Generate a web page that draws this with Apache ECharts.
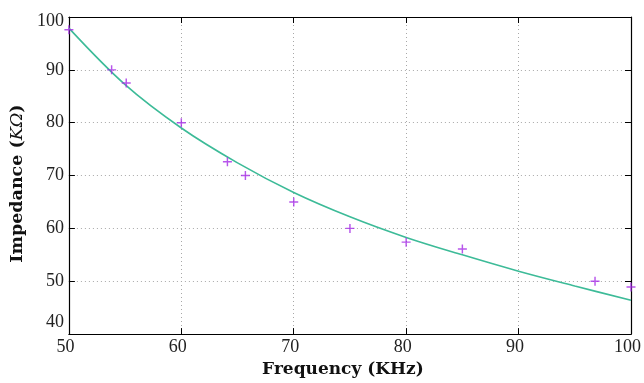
<!DOCTYPE html>
<html>
<head>
<meta charset="utf-8">
<script src="https://cdn.jsdelivr.net/npm/echarts@6/dist/echarts.min.js"></script>
<style>html,body{margin:0;padding:0;background:#fff}#c{width:644px;height:383px}</style>
</head>
<body>
<div id="c"></div>
<script>
// measured points
const measX = [50, 53.8, 55.1, 60, 64.1, 65.7, 70, 75, 80, 85, 96.8, 100];
const measY = [97.6, 90, 87.5, 80, 72.6, 70, 65, 60, 57.4, 56.1, 50, 48.9];
// fitted curve
const fitX = [50, 55, 60, 65, 70, 75, 80, 85, 90, 95, 100];
const fitY = [97.9, 87.2, 79.0, 72.4, 66.8, 62.2, 58.3, 55.0, 51.9, 49.1, 46.4];
// ticks
const xTicks = [50, 60, 70, 80, 90, 100];
const yTicks = [40, 50, 60, 70, 80, 90, 100];

const serif = 'Liberation Serif';
const plus = 'path://M4.2,0 H5.8 V4.2 H10 V5.8 H5.8 V10 H4.2 V5.8 H0 V4.2 H4.2 Z';
const chart = echarts.init(document.getElementById('c'));
const grid = {type: [1, 3], color: '#a8a8a8', width: 1};
chart.setOption({
  animation: false,
  grid: {left: 68.5, right: 9, top: 17, bottom: 42, containLabel: false},
  xAxis: [{
    type: 'value', min: xTicks[0], max: xTicks[xTicks.length-1], interval: 10,
    position: 'bottom',
    name: 'Frequency (KHz)', nameLocation: 'middle', nameGap: 21,
    nameTextStyle: {fontFamily: 'DejaVu Serif', fontWeight: 'bold', fontSize: 17, color: '#111', padding: [0, 14, 0, 0]},
    axisLine: {show: true, lineStyle: {color: '#000', width: 1.2}},
    axisTick: {show: true, inside: true, length: 6, lineStyle: {color: '#000'}},
    axisLabel: {fontFamily: serif, fontSize: 18, color: '#222', margin: 4, padding: [0, 7, 0, 0]},
    splitLine: {show: true, lineStyle: grid}
  }, {
    type: 'value', min: xTicks[0], max: xTicks[xTicks.length-1], interval: 10,
    position: 'top',
    axisLine: {show: true, lineStyle: {color: '#000', width: 1.2}},
    axisTick: {show: true, inside: true, length: 6, lineStyle: {color: '#000'}},
    axisLabel: {show: false}, splitLine: {show: false}
  }],
  yAxis: [{
    type: 'value', min: yTicks[0], max: yTicks[yTicks.length-1], interval: 10,
    position: 'left',
    name: '{b|Impedance (}{i|KΩ}{b|)}', nameLocation: 'middle', nameGap: 37,
    nameTextStyle: {
      padding: [0, 16, 0, 0],
      rich: {
        b: {fontFamily: 'DejaVu Serif', fontWeight: 'bold', fontSize: 17.5, color: '#111'},
        i: {fontFamily: 'DejaVu Serif', fontStyle: 'italic', fontSize: 17.5, color: '#111'}
      }
    },
    axisLine: {show: true, lineStyle: {color: '#000', width: 1.2}},
    axisTick: {show: true, inside: true, length: 6, lineStyle: {color: '#000'}},
    axisLabel: {
      fontFamily: serif, fontSize: 18, color: '#222', margin: 5,
      formatter: v => v === 40 ? '{lo|40}' : (v === 100 ? '{hi|100}' : String(v)),
      rich: {
        lo: {fontFamily: serif, fontSize: 18, color: '#222', padding: [0, 0, 23, 0]},
        hi: {fontFamily: serif, fontSize: 18, color: '#222', padding: [8, 0, 0, 0]}
      }
    },
    splitLine: {show: true, lineStyle: grid}
  }, {
    type: 'value', min: yTicks[0], max: yTicks[yTicks.length-1], interval: 10,
    position: 'right',
    axisLine: {show: true, lineStyle: {color: '#000', width: 1.2}},
    axisTick: {show: true, inside: true, length: 6, lineStyle: {color: '#000'}},
    axisLabel: {show: false}, splitLine: {show: false}
  }],
  series: [{
    type: 'line', xAxisIndex: 0, yAxisIndex: 0,
    data: fitX.map((x, i) => [x, fitY[i]]),
    smooth: 0.35, showSymbol: false, symbol: 'none',
    lineStyle: {color: '#3dbb98', width: 1.6},
    z: 2
  }, {
    type: 'scatter', xAxisIndex: 0, yAxisIndex: 0,
    data: measX.map((x, i) => [x, measY[i]]),
    symbol: plus, symbolSize: 9,
    itemStyle: {color: '#a52be6'},
    z: 3
  }]
});
</script>
</body>
</html>
